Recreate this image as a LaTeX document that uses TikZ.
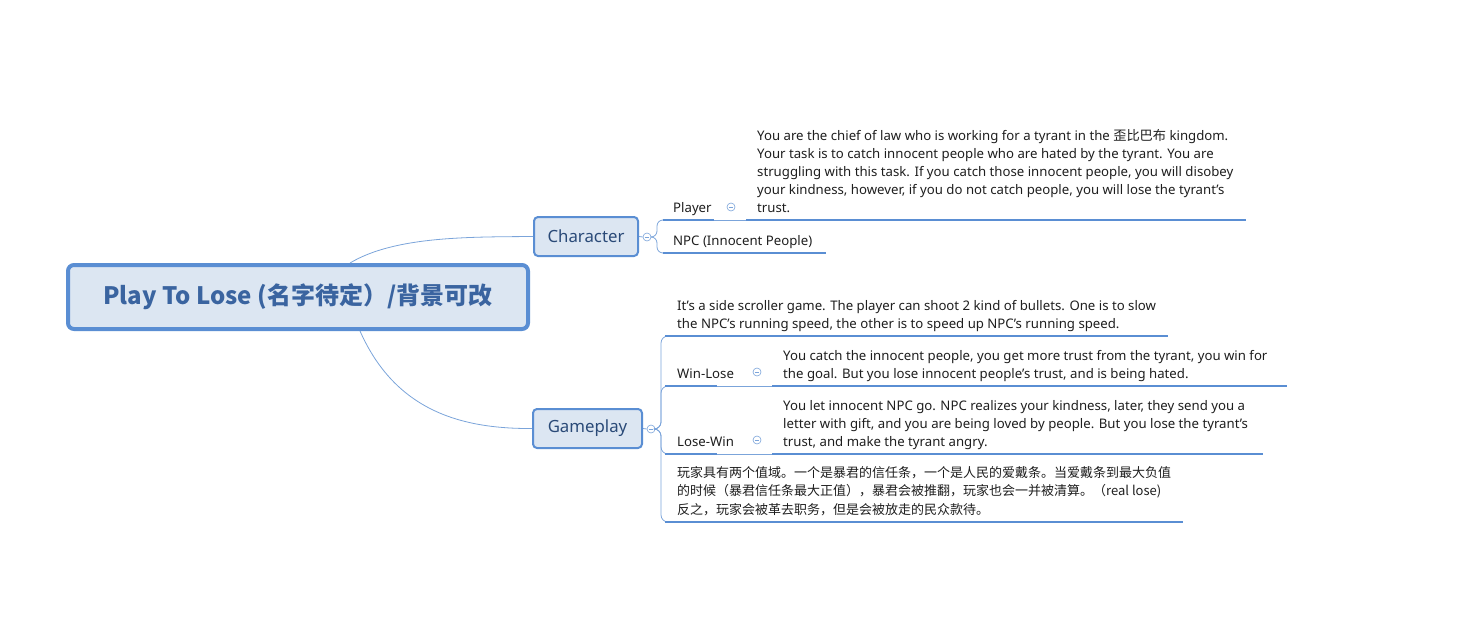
\documentclass[tikz,border=0pt]{standalone}
\usepackage{fontspec}
\setmainfont{Noto Sans}
\newfontfamily\cjk{Noto Sans CJK SC}
\usetikzlibrary{calc}
\definecolor{bord}{HTML}{5A8ED3}
\definecolor{fillb}{HTML}{DCE6F2}
\definecolor{dtext}{HTML}{2A4A78}
\definecolor{rtext}{HTML}{3A64A0}
\definecolor{thinc}{HTML}{7BA4DA}
\definecolor{txt}{HTML}{1E1E1E}
\begin{document}
\begin{tikzpicture}[x=1pt,y=-1pt,
  rootbox/.style={draw=bord, line width=4pt, fill=fillb, rounded corners=6pt, minimum width=460pt, minimum height=64pt, font=\cjk\fontsize{24}{28}\selectfont\bfseries, text=rtext, inner sep=0pt},
  topic/.style={draw=bord, line width=2pt, fill=fillb, rounded corners=4pt, minimum height=39pt, font=\fontsize{16.8}{20}\selectfont, text=dtext, inner sep=0pt},
  lbl/.style={font=\fontsize{13.2}{18}\selectfont, text=txt, anchor=base west, inner sep=0pt},
  desc/.style={font=\fontsize{13.2}{18}\selectfont, text=txt, align=left, anchor=base west, inner sep=0pt},
  uline/.style={draw=bord, line width=2.5pt},
  conn/.style={draw=thinc, line width=0.8pt},
  icon/.style={circle, draw=thinc, line width=0.6pt, minimum size=8pt, inner sep=0pt, fill=white,
    path picture={\draw[thinc,line width=0.6pt] ([xshift=-2.2pt]path picture bounding box.center) -- ([xshift=2.2pt]path picture bounding box.center);}}
]
\useasboundingbox (0,0) rectangle (1483,637);

% main nodes
\node[rootbox] (root) at (298,297) {Play To Lose (名字待定）/背景可改};
\node[topic, minimum width=104pt] (char) at (586,236.5) {Character};
\node[topic, minimum width=109pt] (game) at (587.5,428.5) {Gameplay};

% root connectors
\coordinate (rtop) at (350,263);
\coordinate (rbot) at (360,331);
\draw[conn] (rtop) .. controls (395,236) and (470,237) .. (char.west);
\draw[conn] (rbot) .. controls (395,410) and (460,429) .. (game.west);

% icons
\node[icon] (iC) at (647,237) {};
\node[icon] (iG) at (651,429) {};
\node[icon] (iP) at (731,207) {};
\node[icon] (iW) at (757,372) {};
\node[icon] (iL) at (757,440) {};
\draw[conn] (char.east) -- (iC.west);
\draw[conn] (game.east) -- (iG.west);

% Character children
\coordinate (pS) at (663,220);
\coordinate (pE) at (714,220);
\coordinate (pdS) at (746,220);
\coordinate (pdE) at (1246,220);
\coordinate (nS) at (663,253);
\coordinate (nE) at (826,253);
\draw[conn, rounded corners=6pt] (iC.east) -| (657,220) -- (pS);
\draw[conn, rounded corners=6pt] (iC.east) -| (657,253) -- (nS);
\node[lbl] (player) at (673,212) {Player};
\node[lbl] (npc) at (673,245) {NPC (Innocent People)};
\draw[uline] (pS) -- (pE);
\draw[conn] (pE) -- (pdS);
\draw[uline] (pdS) -- (pdE);
\draw[uline] (nS) -- (nE);
\node[desc] (pdesc) at (757,212) {You are the chief of law who is working for a tyrant in the {\cjk 歪比巴布} kingdom.\\Your task is to catch innocent people who are hated by the tyrant. You are\\struggling with this task. If you catch those innocent people, you will disobey\\your kindness, however, if you do not catch people, you will lose the tyrant’s\\trust.};

% Gameplay children
\coordinate (d1S) at (665,336);
\coordinate (d1E) at (1168,336);
\coordinate (wS) at (665,386);
\coordinate (wE) at (717,386);
\coordinate (wdS) at (772,386);
\coordinate (wdE) at (1287,386);
\coordinate (lS) at (665,454);
\coordinate (lE) at (717,454);
\coordinate (ldS) at (772,454);
\coordinate (ldE) at (1263,454);
\coordinate (cS) at (665,522);
\coordinate (cE) at (1183,522);
\draw[conn, rounded corners=7pt] (iG.east) -| (661,336) -- (d1S);
\draw[conn, rounded corners=7pt] (iG.east) -| (661,386) -- (wS);
\draw[conn, rounded corners=7pt] (iG.east) -| (661,454) -- (lS);
\draw[conn, rounded corners=7pt] (iG.east) -| (661,522) -- (cS);

\node[desc] (g1) at (677,328) {It’s a side scroller game. The player can shoot 2 kind of bullets. One is to slow\\the NPC’s running speed, the other is to speed up NPC’s running speed.};
\draw[uline] (d1S) -- (d1E);

\node[lbl] (winlose) at (677,378) {Win-Lose};
\draw[uline] (wS) -- (wE);
\draw[conn] (wE) -- (wdS);
\draw[uline] (wdS) -- (wdE);
\node[desc] (wdesc) at (783,378) {You catch the innocent people, you get more trust from the tyrant, you win for\\the goal. But you lose innocent people’s trust, and is being hated.};

\node[lbl] (losewin) at (677,446) {Lose-Win};
\draw[uline] (lS) -- (lE);
\draw[conn] (lE) -- (ldS);
\draw[uline] (ldS) -- (ldE);
\node[desc] (ldesc) at (783,446) {You let innocent NPC go. NPC realizes your kindness, later, they send you a\\letter with gift, and you are being loved by people. But you lose the tyrant’s\\trust, and make the tyrant angry.};

\node[desc, font=\cjk\fontsize{13}{18.5}\selectfont] (cdesc) at (677,514) {玩家具有两个值域。一个是暴君的信任条，一个是人民的爱戴条。当爱戴条到最大负值\\的时候（暴君信任条最大正值），暴君会被推翻，玩家也会一并被清算。（real lose)\\反之，玩家会被革去职务，但是会被放走的民众款待。};
\draw[uline] (cS) -- (cE);
\end{tikzpicture}
\end{document}
